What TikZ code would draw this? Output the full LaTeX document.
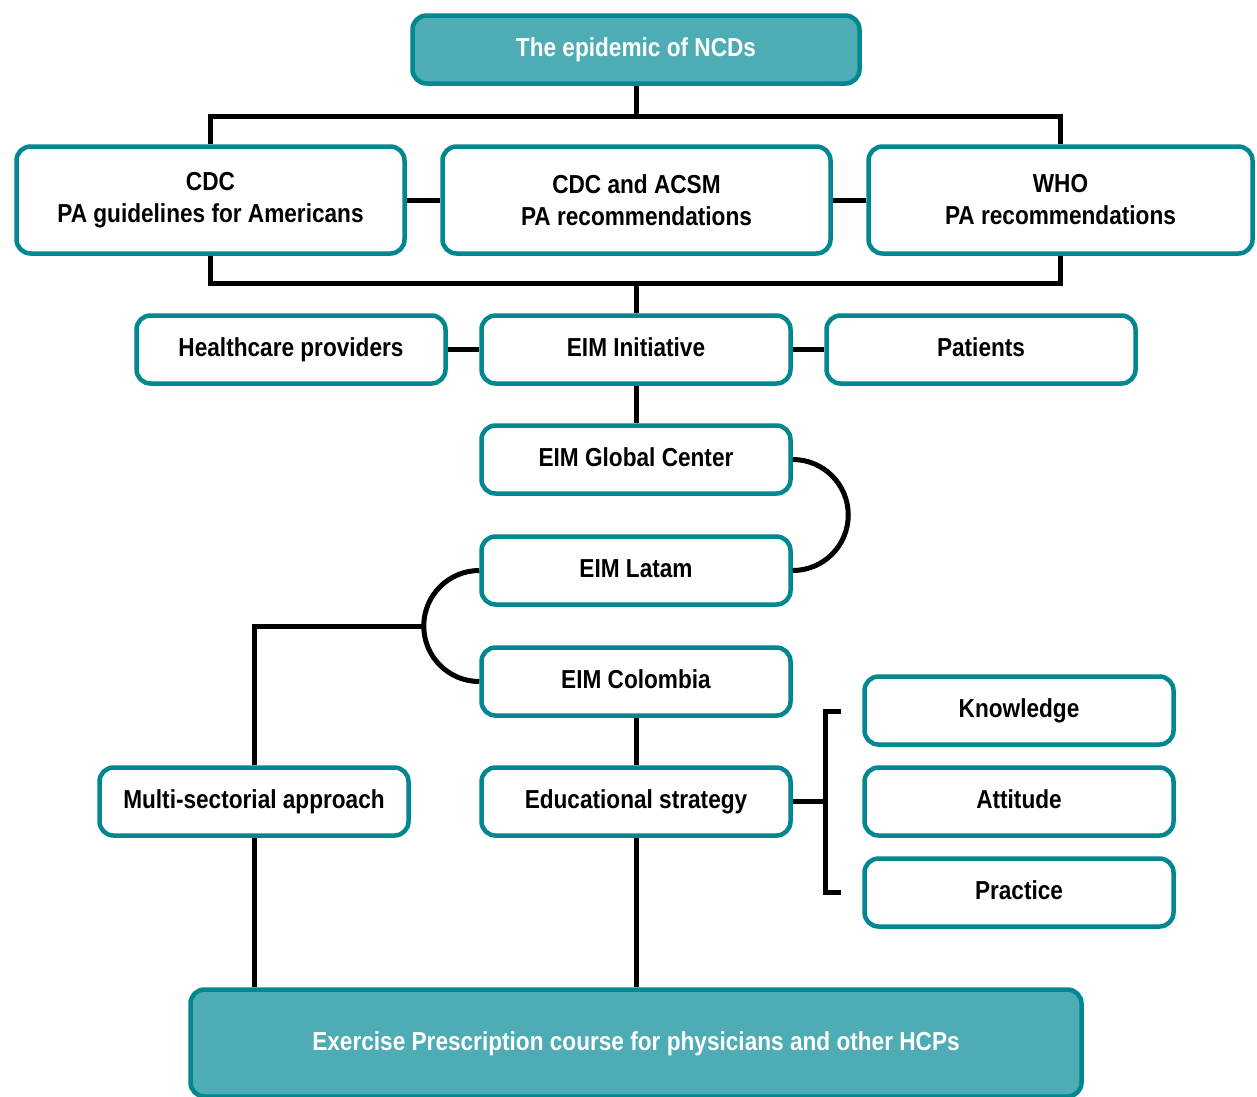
\documentclass[tikz,border=0pt]{standalone}
\usepackage{fontspec}
\setmainfont[FakeStretch=0.87]{Liberation Sans}
\definecolor{tealdark}{HTML}{00878F}
\definecolor{teallight}{HTML}{4EACB5}
\begin{document}
\begin{tikzpicture}[x=1pt,y=-1pt,
  box/.style={draw=tealdark, line width=4.5pt, rounded corners=14pt, fill=white,
    align=center, inner sep=0pt, font=\fontsize{26}{32}\selectfont\bfseries,
    minimum width=309pt, minimum height=68pt},
  onebox/.style={box, text height=19pt, text depth=5pt},
  bigbox/.style={box, minimum width=388pt, minimum height=107pt},
  darkbox/.style={onebox, fill=teallight, text=white},
  conn/.style={line width=5pt, black}]
\fill[white] (0,0) rectangle (1257,1096);
\useasboundingbox (0,0) rectangle (1257,1096);
% nodes
\node[darkbox, minimum width=447pt] (top) at (636,49.5) {The epidemic of NCDs};
\node[bigbox] (cdc) at (210.5,200) {CDC\\PA guidelines for Americans};
\node[bigbox] (acsm) at (636.5,200) {CDC and ACSM\\PA recommendations};
\node[bigbox, minimum width=384pt] (who) at (1060.5,200) {WHO\\PA recommendations};
\node[onebox] (hcp) at (291,349.5) {Healthcare providers};
\node[onebox] (eimi) at (636,349.5) {EIM Initiative};
\node[onebox] (pat) at (981,349.5) {Patients};
\node[onebox] (glob) at (636,459.5) {EIM Global Center};
\node[onebox] (latam) at (636,570.5) {EIM Latam};
\node[onebox] (col) at (636,681.5) {EIM Colombia};
\node[onebox] (multi) at (254,801.5) {Multi-sectorial approach};
\node[onebox] (edu) at (636,801.5) {Educational strategy};
\node[onebox] (know) at (1019,710.5) {Knowledge};
\node[onebox] (att) at (1019,801.5) {Attitude};
\node[onebox] (prac) at (1019,892.5) {Practice};
\node[darkbox, minimum width=891pt, minimum height=107pt] (ex) at (636,1043) {Exercise Prescription course for physicians and other HCPs};
% coordinates
\coordinate (bus1) at (636,116);
\coordinate (bus2) at (636,283);
\coordinate (lp) at (423,626);
\coordinate (brj) at (825,801.5);
\coordinate (brt) at (841,711);
\coordinate (brb) at (841,892);
% connectors
\draw[conn] (top.south) -- (bus1);
\draw[conn] (cdc.north) |- (bus1) -| (who.north);
\draw[conn] (cdc.south) |- (bus2) -| (who.south);
\draw[conn] (bus2) -- (eimi.north);
\draw[conn] (cdc.east) -- (acsm.west);
\draw[conn] (acsm.east) -- (who.west);
\draw[conn] (hcp.east) -- (eimi.west);
\draw[conn] (eimi.east) -- (pat.west);
\draw[conn] (eimi.south) -- (glob.north);
\draw[conn] (glob.east) arc[start angle=90, end angle=-90, radius=55.5pt];
\draw[conn] (latam.west) arc[start angle=90, end angle=270, radius=55.5pt];
\draw[conn] (lp) -| (multi.north);
\draw[conn] (multi.south) -- (multi.south |- ex.north);
\draw[conn] (col.south) -- (edu.north);
\draw[conn] (edu.south) -- (ex.north);
\draw[conn] (edu.east) -- (brj);
\draw[conn] (brt) -| (brj) |- (brb);
\end{tikzpicture}
\end{document}
